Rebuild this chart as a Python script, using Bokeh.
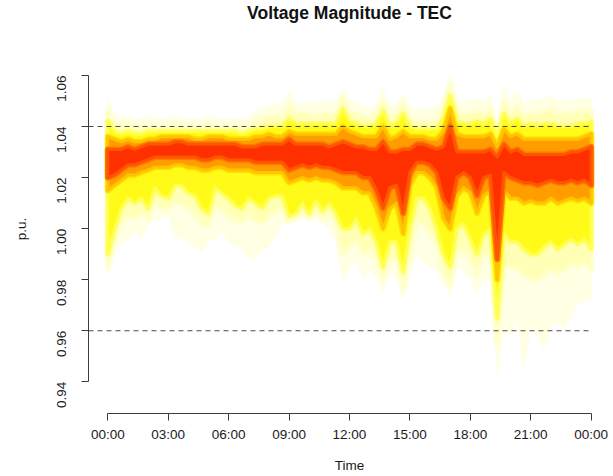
from math import pi

from bokeh.plotting import figure
from bokeh.models import FixedTicker, PrintfTickFormatter, Range1d, Title
from bokeh.embed import file_html
from bokeh.resources import INLINE

# Time axis: one sample every 20 minutes over the day (hours)
times = [i / 3 for i in range(73)]

# Quantile envelopes of the voltage magnitude (p.u.), outermost (1) to innermost (5)
hi1 = [1.051, 1.045, 1.043, 1.044, 1.043, 1.043, 1.044, 1.043, 1.043, 1.043,
       1.044, 1.043, 1.043, 1.043, 1.043, 1.044, 1.043, 1.043, 1.043, 1.043,
       1.043, 1.044, 1.046, 1.047, 1.048, 1.049, 1.049, 1.054, 1.049, 1.049,
       1.050, 1.049, 1.050, 1.050, 1.050, 1.055, 1.050, 1.049, 1.048, 1.047,
       1.049, 1.055, 1.048, 1.049, 1.053, 1.048, 1.047, 1.047, 1.047, 1.048,
       1.052, 1.060, 1.051, 1.050, 1.050, 1.051, 1.050, 1.052, 1.040, 1.056,
       1.050, 1.054, 1.049, 1.050, 1.050, 1.051, 1.052, 1.050, 1.050, 1.050,
       1.051, 1.051, 1.051]
hi2 = [1.046, 1.041, 1.040, 1.041, 1.040, 1.040, 1.040, 1.040, 1.040, 1.040,
       1.041, 1.040, 1.040, 1.040, 1.040, 1.041, 1.040, 1.040, 1.040, 1.040,
       1.040, 1.040, 1.042, 1.043, 1.044, 1.044, 1.044, 1.048, 1.045, 1.045,
       1.045, 1.044, 1.045, 1.045, 1.045, 1.051, 1.046, 1.045, 1.044, 1.043,
       1.045, 1.050, 1.044, 1.045, 1.049, 1.043, 1.042, 1.042, 1.042, 1.043,
       1.047, 1.056, 1.046, 1.045, 1.045, 1.046, 1.045, 1.047, 1.038, 1.050,
       1.045, 1.048, 1.044, 1.045, 1.045, 1.046, 1.047, 1.045, 1.045, 1.045,
       1.046, 1.046, 1.046]
hi3 = [1.042, 1.038, 1.037, 1.038, 1.037, 1.037, 1.038, 1.038, 1.038, 1.038,
       1.038, 1.038, 1.038, 1.038, 1.038, 1.038, 1.038, 1.038, 1.038, 1.038,
       1.037, 1.038, 1.039, 1.039, 1.040, 1.040, 1.040, 1.043, 1.041, 1.041,
       1.041, 1.041, 1.041, 1.041, 1.041, 1.047, 1.042, 1.041, 1.040, 1.040,
       1.041, 1.046, 1.040, 1.041, 1.045, 1.040, 1.039, 1.039, 1.039, 1.039,
       1.043, 1.052, 1.042, 1.041, 1.041, 1.042, 1.041, 1.043, 1.036, 1.045,
       1.041, 1.043, 1.040, 1.041, 1.040, 1.041, 1.041, 1.040, 1.040, 1.040,
       1.041, 1.041, 1.042]
hi4 = [1.036, 1.035, 1.034, 1.035, 1.034, 1.034, 1.035, 1.035, 1.036, 1.036,
       1.036, 1.036, 1.036, 1.035, 1.035, 1.036, 1.036, 1.036, 1.035, 1.035,
       1.035, 1.035, 1.036, 1.036, 1.037, 1.036, 1.036, 1.038, 1.037, 1.037,
       1.037, 1.037, 1.037, 1.037, 1.037, 1.040, 1.038, 1.037, 1.036, 1.036,
       1.036, 1.040, 1.035, 1.036, 1.038, 1.036, 1.036, 1.036, 1.035, 1.035,
       1.038, 1.047, 1.037, 1.036, 1.036, 1.036, 1.036, 1.037, 1.032, 1.039,
       1.036, 1.037, 1.035, 1.035, 1.035, 1.035, 1.035, 1.035, 1.035, 1.035,
       1.035, 1.036, 1.037]
hi5 = [1.031, 1.031, 1.031, 1.032, 1.031, 1.032, 1.033, 1.033, 1.033, 1.033,
       1.034, 1.034, 1.033, 1.033, 1.033, 1.033, 1.033, 1.033, 1.033, 1.033,
       1.032, 1.032, 1.032, 1.033, 1.033, 1.033, 1.033, 1.035, 1.033, 1.033,
       1.033, 1.033, 1.033, 1.032, 1.033, 1.034, 1.033, 1.032, 1.032, 1.031,
       1.031, 1.034, 1.030, 1.030, 1.031, 1.031, 1.033, 1.033, 1.032, 1.031,
       1.032, 1.040, 1.030, 1.030, 1.030, 1.030, 1.030, 1.031, 1.028, 1.033,
       1.030, 1.031, 1.029, 1.029, 1.029, 1.029, 1.029, 1.029, 1.029, 1.030,
       1.030, 1.031, 1.032]
lo5 = [1.020, 1.021, 1.023, 1.025, 1.025, 1.026, 1.027, 1.028, 1.028, 1.028,
       1.028, 1.028, 1.028, 1.028, 1.027, 1.027, 1.028, 1.028, 1.027, 1.027,
       1.027, 1.027, 1.026, 1.026, 1.026, 1.026, 1.026, 1.023, 1.024, 1.025,
       1.024, 1.025, 1.024, 1.024, 1.023, 1.022, 1.022, 1.022, 1.020, 1.020,
       1.015, 1.008, 1.016, 1.017, 1.006, 1.022, 1.026, 1.026, 1.025, 1.022,
       1.012, 1.008, 1.020, 1.022, 1.020, 1.013, 1.020, 1.021, 0.988, 1.022,
       1.020, 1.019, 1.018, 1.018, 1.017, 1.018, 1.019, 1.018, 1.018, 1.019,
       1.018, 1.019, 1.017]
lo4 = [1.015, 1.017, 1.019, 1.021, 1.021, 1.022, 1.023, 1.024, 1.024, 1.024,
       1.025, 1.025, 1.024, 1.024, 1.023, 1.023, 1.024, 1.024, 1.023, 1.023,
       1.023, 1.023, 1.022, 1.022, 1.022, 1.022, 1.022, 1.018, 1.019, 1.020,
       1.019, 1.020, 1.019, 1.019, 1.018, 1.016, 1.016, 1.016, 1.014, 1.014,
       1.008, 1.000, 1.008, 1.010, 0.998, 1.017, 1.022, 1.022, 1.020, 1.016,
       1.004, 1.000, 1.013, 1.016, 1.014, 1.006, 1.013, 1.015, 0.980, 1.015,
       1.012, 1.012, 1.010, 1.011, 1.010, 1.010, 1.012, 1.010, 1.011, 1.012,
       1.011, 1.012, 1.010]
lo3 = [0.990, 1.000, 1.008, 1.012, 1.010, 1.012, 1.008, 1.016, 1.013, 1.012,
       1.017, 1.017, 1.014, 1.013, 1.008, 1.006, 1.016, 1.014, 1.012, 1.009,
       1.008, 1.012, 1.010, 1.008, 1.012, 1.013, 1.013, 1.005, 1.006, 1.010,
       1.006, 1.011, 1.007, 1.010, 1.006, 1.000, 1.000, 1.004, 0.998, 1.000,
       0.995, 0.985, 0.995, 0.995, 0.983, 1.000, 1.012, 1.012, 1.008, 1.000,
       0.990, 0.985, 1.000, 1.002, 0.996, 0.990, 0.998, 1.000, 0.965, 0.998,
       0.995, 0.995, 0.992, 0.990, 0.990, 0.993, 0.995, 0.992, 0.994, 0.996,
       0.994, 0.996, 0.992]
lo2 = [0.985, 0.995, 1.002, 1.005, 1.004, 1.006, 1.004, 1.010, 1.008, 1.008,
       1.010, 1.010, 1.008, 1.006, 1.002, 1.001, 1.009, 1.007, 1.005, 1.003,
       1.003, 1.005, 1.003, 1.002, 1.005, 1.006, 1.008, 1.003, 1.004, 1.006,
       1.004, 1.006, 1.004, 1.005, 1.002, 0.990, 0.993, 0.995, 0.990, 0.992,
       0.988, 0.980, 0.988, 0.988, 0.977, 0.990, 1.002, 1.002, 0.998, 0.993,
       0.983, 0.978, 0.990, 0.992, 0.988, 0.982, 0.990, 0.990, 0.955, 0.985,
       0.985, 0.984, 0.982, 0.980, 0.980, 0.982, 0.984, 0.982, 0.984, 0.986,
       0.985, 0.987, 0.984]
lo1 = [0.983, 0.990, 0.994, 0.996, 0.999, 0.996, 1.002, 1.003, 1.004, 1.005,
       0.997, 0.996, 0.995, 0.993, 0.991, 0.995, 0.996, 0.999, 0.995, 0.993,
       0.992, 0.988, 0.989, 0.991, 0.993, 0.997, 1.002, 1.002, 1.003, 1.004,
       1.003, 1.004, 1.002, 1.000, 0.995, 0.980, 0.985, 0.988, 0.980, 0.984,
       0.981, 0.975, 0.983, 0.980, 0.973, 0.982, 0.990, 0.987, 0.985, 0.984,
       0.978, 0.974, 0.986, 0.984, 0.980, 0.975, 0.980, 0.980, 0.943, 0.962,
       0.958, 0.965, 0.945, 0.962, 0.958, 0.953, 0.962, 0.963, 0.961, 0.966,
       0.970, 0.972, 0.972]

# Operating limits (p.u.)
limits = [0.96, 1.04]

# Axis ticks
y_ticks = [0.94, 0.96, 0.98, 1.00, 1.02, 1.04, 1.06]
x_ticks = [0, 3, 6, 9, 12, 15, 18, 21, 24]
x_labels = ["00:00", "03:00", "06:00", "09:00", "12:00", "15:00", "18:00", "21:00", "00:00"]

FONT = "Liberation Sans"

p = figure(width=613, height=476, output_backend="svg", toolbar_location=None,
           x_range=Range1d(-0.96, 24.96), y_range=Range1d(0.9276, 1.0721),
           min_border_left=88, min_border_right=3, min_border_top=43,
           min_border_bottom=63, background_fill_color="white",
           border_fill_color="white")
p.outline_line_color = None
p.xgrid.visible = False
p.ygrid.visible = False

# Fan bands, drawn from the widest envelope inwards. Each band gets two soft
# outline strokes so that neighbouring shades blend into one another.
bands = [
    # lo,  hi,  fill,      wide halo,  narrow halo
    (lo1, hi1, "#FFFFE4", None,      None),
    (lo2, hi2, "#FFFFB6", "#FFFFD8", "#FFFFC8"),
    (lo3, hi3, "#FFFA18", "#FFFF8A", "#FFFF50"),
    (lo4, hi4, "#FF9C00", "#FFE200", "#FFC400"),
    (lo5, hi5, "#FF3000", "#FF7800", "#FF5400"),
]
for lo, hi, fill, halo_wide, halo_narrow in bands:
    xs = times + times[::-1]
    ys = hi + lo[::-1]
    if halo_wide is not None:
        p.patch(xs, ys, fill_color=None, line_color=halo_wide, line_width=6,
                line_join="round")
    p.patch(xs, ys, fill_color=fill, line_color=halo_narrow or fill,
            line_width=3 if halo_narrow else 1, line_join="round")

for v in limits:
    p.line([p.x_range.start, times[-1]], [v, v], line_color="#4a4a4a",
           line_width=1, line_dash="5 4")

# Axes in the style of a base-graphics plot
for ax in (p.xaxis[0], p.yaxis[0]):
    ax.axis_line_color = "#3c3c3c"
    ax.major_tick_line_color = "#3c3c3c"
    ax.minor_tick_line_color = None
    ax.major_tick_in = 0
    ax.major_tick_out = 7
    ax.major_label_text_font = FONT
    ax.major_label_text_font_size = "13.5px"
    ax.major_label_text_color = "#1a1a1a"
    ax.axis_label_text_font = FONT
    ax.axis_label_text_font_size = "13.5px"
    ax.axis_label_text_font_style = "normal"
    ax.axis_label_text_color = "#1a1a1a"

p.xaxis.ticker = FixedTicker(ticks=x_ticks)
p.xaxis.major_label_overrides = {t: s for t, s in zip(x_ticks, x_labels)}
p.xaxis.bounds = (x_ticks[0], x_ticks[-1])
p.xaxis.axis_label = "Time"
p.xaxis.major_label_standoff = 6
p.xaxis.axis_label_standoff = 13

p.yaxis.ticker = FixedTicker(ticks=y_ticks)
p.yaxis.formatter = PrintfTickFormatter(format="%.2f")
p.yaxis.bounds = (y_ticks[0], y_ticks[-1])
p.yaxis.major_label_orientation = pi / 2
p.yaxis.axis_label = "p.u."
p.yaxis.major_label_standoff = 20
p.yaxis.axis_label_standoff = 21

# Blank strip between the plotting area and the main title
p.add_layout(Title(text=" ", text_font_size="10px", standoff=9), "above")

p.title.text = "Voltage Magnitude - TEC"
p.title.align = "center"
p.title.text_font = FONT
p.title.text_font_size = "17.5px"
p.title.text_font_style = "bold"
p.title.text_color = "#111111"
p.title.standoff = 0

open("out.html", "w").write(file_html(p, INLINE))
